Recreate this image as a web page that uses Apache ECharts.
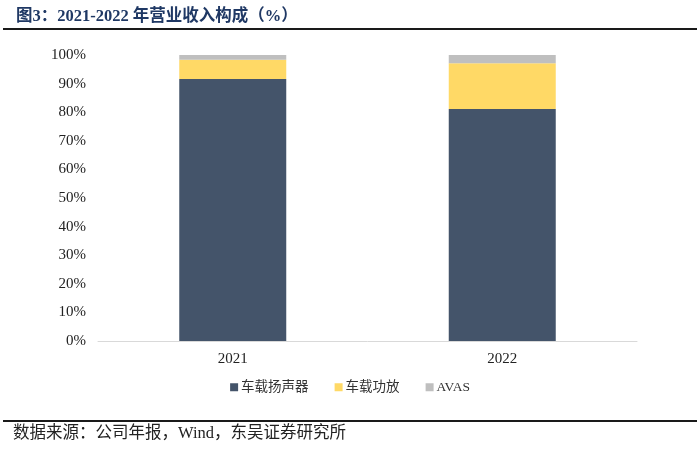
<!DOCTYPE html>
<html>
<head>
<meta charset="utf-8">
<script src="https://cdn.jsdelivr.net/npm/echarts@6/dist/echarts.min.js"></script>
<style>
html,body{margin:0;padding:0;background:#fff;}
#c{width:700px;height:451px;}
</style>
</head>
<body>
<div id="c"></div>
<script>
var categories = ['2021', '2022'];
var speakers = [91.6, 81.1];
var amplifiers = [6.7, 16.0];
var avas = [1.7, 2.9];
var seriesNames = ['车载扬声器', '车载功放', 'AVAS'];

var serif = '"Times New Roman", "Liberation Serif", "Noto Sans CJK SC", serif';
var chart = echarts.init(document.getElementById('c'));
chart.setOption({
  backgroundColor: '#fff',
  animation: false,
  title: {
    text: '图3：2021-2022 年营业收入构成（%）',
    left: 11, top: 3,
    textStyle: { fontFamily: serif, fontSize: 16.5, fontWeight: 'bold', color: '#1F3864' }
  },
  legend: {
    data: seriesNames,
    bottom: 52,
    left: 'center',
    itemWidth: 8, itemHeight: 8, itemGap: 26,
    icon: 'rect',
    textStyle: { fontFamily: serif, fontSize: 13.5, color: '#333', padding: [0,0,0,-2] }
  },
  grid: { left: 98, right: 63, top: 55, bottom: 110 },
  xAxis: {
    type: 'category',
    data: categories,
    axisLine: { lineStyle: { color: '#D9D9D9', width: 1 } },
    axisTick: { show: false },
    axisLabel: { fontFamily: serif, fontSize: 15, color: '#222', margin: 11 }
  },
  yAxis: {
    type: 'value',
    min: 0, max: 100, interval: 10,
    axisLine: { show: false },
    axisTick: { show: false },
    splitLine: { show: false },
    axisLabel: { fontFamily: serif, fontSize: 15, color: '#222', margin: 12, formatter: '{value}%' }
  },
  series: [
    { name: seriesNames[0], type: 'bar', stack: 'a', data: speakers, barWidth: 107, itemStyle: { color: '#44546A' } },
    { name: seriesNames[1], type: 'bar', stack: 'a', data: amplifiers, barWidth: 107, itemStyle: { color: '#FFD966' } },
    { name: seriesNames[2], type: 'bar', stack: 'a', data: avas, barWidth: 107, itemStyle: { color: '#BFBFBF' } }
  ],
  graphic: [
    { type: 'line', shape: { x1: 3, y1: 29, x2: 697, y2: 29 }, style: { stroke: '#1a1a1a', lineWidth: 2 } },
    { type: 'line', shape: { x1: 3, y1: 421, x2: 697, y2: 421 }, style: { stroke: '#1a1a1a', lineWidth: 2 } },
    { type: 'text', left: 13, top: 425, style: { text: '数据来源：公司年报，Wind，东吴证券研究所', font: '16.5px ' + serif, fill: '#222' } }
  ]
});
</script>
</body>
</html>
